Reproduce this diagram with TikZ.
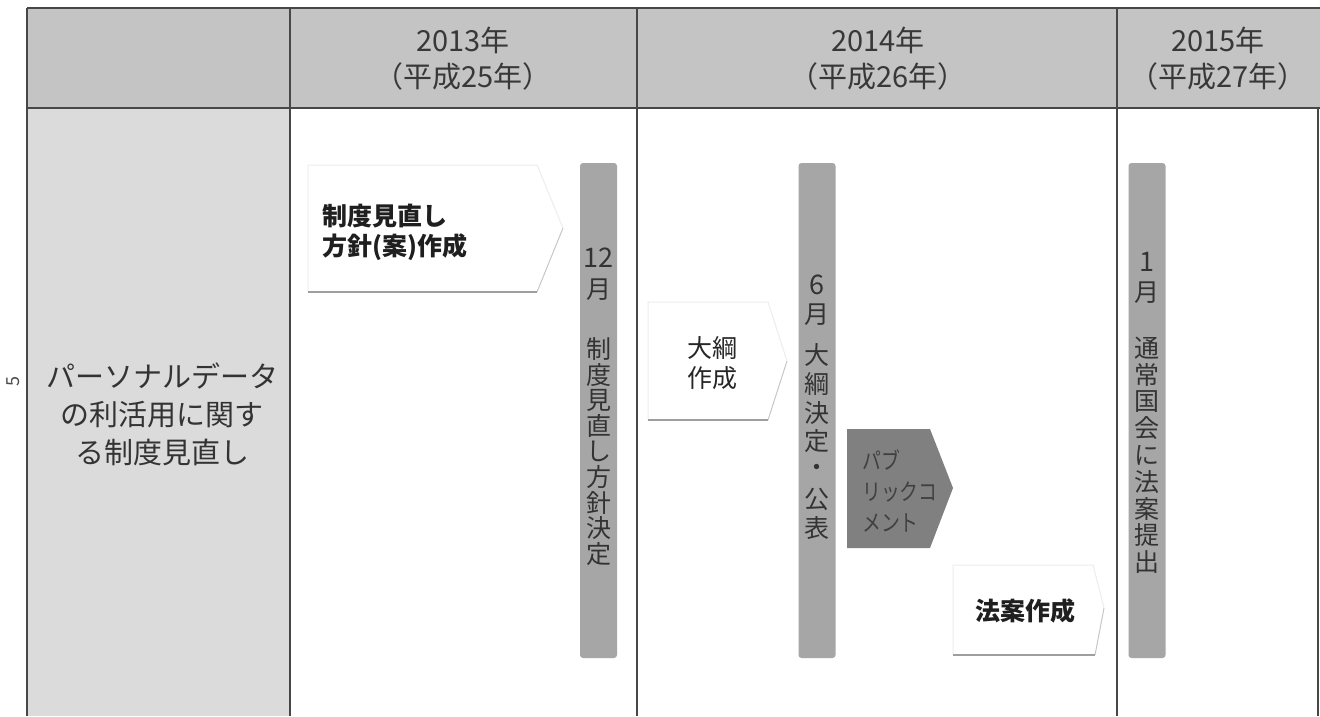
\documentclass[tikz,border=0pt]{standalone}
\usepackage{fontspec}
\usepackage{graphicx}
\setmainfont{Noto Sans CJK JP}
\newcommand{\nrw}[1]{\scalebox{0.82}[1]{#1}}
\begin{document}
\begin{tikzpicture}[x=1pt,y=-1pt,
  grid/.style={draw=black!72,line width=1.3pt},
  hdr/.style={align=center,font=\fontsize{29}{36}\selectfont,text=black!78,inner sep=0pt},
  barnode/.style={fill=black!35,rounded corners=3pt,inner sep=0pt,minimum width=37pt,minimum height=495pt},
  vch/.style={inner sep=0pt,font=\fontsize{25}{25}\selectfont,text=black!80},
  boxtxt/.style={inner sep=0pt,font=\bfseries\fontsize{25}{30}\selectfont,text=black!88},
  faint/.style={draw=black!7,line width=1pt},
  shade/.style={draw=black!38,line width=1.3pt},
  slant/.style={draw=black!22,line width=1pt},
]
\useasboundingbox (0,0) rectangle (1320,716);
\fill[white] (0,0) rectangle (1320,716);
% table
\fill[black!23] (27,8) rectangle (1320,108);
\fill[black!14] (27,108) rectangle (290,716);
\draw[grid] (27,8) -- (1320,8);
\draw[grid] (27,108) -- (1320,108);
\foreach \x in {27,290,637,1117} \draw[grid] (\x,8) -- (\x,716);
\draw[grid] (1318,108) -- (1318,716);
% headers
\node[hdr] (h2013) at (463,59) {2013年\\（平成25年）};
\node[hdr] (h2014) at (878,59) {2014年\\（平成26年）};
\node[hdr] (h2015) at (1218,59) {2015年\\（平成27年）};
% row label
\node[align=center,inner sep=0pt,font=\fontsize{29}{38}\selectfont,text=black!80] (row) at (162,414)
  {パーソナルデータ\\の利活用に関す\\る制度見直し};
\node[rotate=90,inner sep=0pt,font=\fontsize{18}{18}\selectfont,text=black!70] (pg) at (13,381) {5};
% box 1
\fill[white] (308,165) -- (537,165) -- (563,228) -- (537,292) -- (308,292) -- cycle;
\draw[faint] (308,292) -- (308,165) -- (537,165) -- (563,228);
\draw[slant] (563,228) -- (537,292);
\draw[shade] (537,292) -- (308,292);
\node[boxtxt,anchor=west,align=left] (t1) at (322,232) {制度見直し\\方針(案)作成};
% box 2
\fill[white] (648,302) -- (768,302) -- (787,361) -- (768,420) -- (648,420) -- cycle;
\draw[faint] (648,420) -- (648,302) -- (768,302) -- (787,361);
\draw[slant] (787,361) -- (768,420);
\draw[shade] (768,420) -- (648,420);
\node[inner sep=0pt,align=center,font=\fontsize{25}{30}\selectfont,text=black!85] (t2) at (712,363) {大綱\\作成};
% box 3 public comment
\fill[black!50] (847,429) -- (930,429) -- (953,488) -- (930,548) -- (847,548) -- cycle;
\node[inner sep=0pt,anchor=west,align=left,font=\fontsize{23}{31}\selectfont,text=black!75] (t3) at (862,491) {\nrw{パブ}\\\nrw{リックコ}\\\nrw{メント}};
% box 4
\fill[white] (953,565) -- (1093,565) -- (1104,608) -- (1095,655) -- (953,655) -- cycle;
\draw[faint] (953,655) -- (953,565) -- (1093,565) -- (1104,608);
\draw[slant] (1104,608) -- (1095,655);
\draw[shade] (1095,655) -- (953,655);
\node[boxtxt] (t4) at (1025,611) {法案作成};
% bars
\node[barnode] (bar1) at (598.5,410.5) {};
\node[barnode] (bar2) at (817,410.5) {};
\node[barnode] (bar3) at (1147,410.5) {};
% bar 1 text
\node[vch,font=\fontsize{27}{27}\selectfont] (b1m) at (598.5,258) {12};
\node[vch] (b1n) at (598.5,290) {月};
\foreach \c [count=\i from 0] in {制,度,見,直,し,方,針,決,定}
  \node[vch] (b1t\i) at (598.5,{349+25.6*\i}) {\c};
% bar 2 text
\node[vch,font=\fontsize{27}{27}\selectfont] (b2m) at (817,285) {6};
\node[vch] (b2n) at (817,315) {月};
\foreach \c [count=\i from 0] in {大,綱,決,定,・,公,表}
  \node[vch] (b2t\i) at (817,{355+28.8*\i}) {\c};
% bar 3 text
\node[vch,font=\fontsize{27}{27}\selectfont] (b3m) at (1147,262) {1};
\node[vch] (b3n) at (1147,293) {月};
\foreach \c [count=\i from 0] in {通,常,国,会,に,法,案,提,出}
  \node[vch] (b3t\i) at (1147,{348+26.75*\i}) {\c};
\end{tikzpicture}
\end{document}
